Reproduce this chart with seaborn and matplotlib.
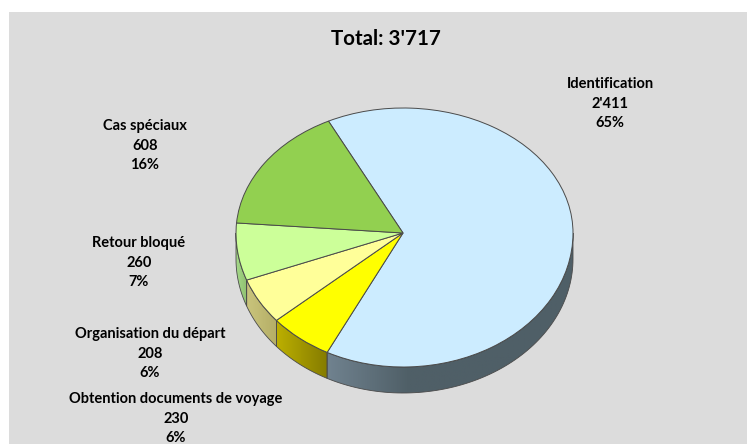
import numpy as np
import seaborn as sns
import matplotlib.pyplot as plt
from matplotlib.patches import PathPatch, Polygon, Rectangle
from matplotlib.path import Path

categories = ['Identification', 'Obtention documents de voyage', 'Organisation du départ', 'Retour bloqué', 'Cas spéciaux']
values = [2411, 230, 208, 260, 608]
percents = [65, 6, 6, 7, 16]
total_label = "Total: 3'717"
top_colors = ['#CCECFF', '#FFFF00', '#FFFF99', '#CCFF99', '#92D050']
side_left = ['#70828F', '#BDB000', '#C9C47C', '#A6D98A', '#7FB045']
side_right = ['#4F5F67', '#857C00', '#B5AE66', '#8FC070', '#6E9A3C']

sns.set_theme(style='white')
plt.rcParams['font.family'] = ['Lato', 'DejaVu Sans']

W, H = 747, 444
fig = plt.figure(figsize=(W / 100, H / 100), dpi=100, facecolor='white')
ax = fig.add_axes([0, 0, 1, 1])

# pixel layout: apex of the pie and radius on each side of it (excel fakes perspective)
cx, cy = 403, 233
r_right, r_left, r_top, r_bottom = 170, 167, 125, 134
depth = 26


def warp(xy):
    xy = np.array(xy, dtype=float)
    xy[:, 0] *= np.where(xy[:, 0] < 0, r_left / r_right, 1)
    xy[:, 1] *= np.where(xy[:, 1] < 0, r_bottom / r_top, 1)
    return xy


wedges, _ = ax.pie(values, colors=sns.color_palette(top_colors), startangle=116.5, counterclock=False, radius=1)
ax.set_aspect('auto')
ax.set_frame_on(False)
ax.add_patch(Rectangle((9, 0), W, H - 12, transform=None, facecolor='#DCDCDC', edgecolor='none', zorder=0))

for w, c1, c2 in zip(wedges, side_left, side_right):
    # redraw the top face with the perspective applied
    p = w.get_patch_transform().transform_path(w.get_path())
    ax.add_patch(PathPatch(Path(warp(p.vertices), p.codes), facecolor=w.get_facecolor(), edgecolor='#4a4a4a',
                           linewidth=0.7, zorder=5))
    w.set_visible(False)

    # side wall of the front facing slices
    t1, t2 = w.theta1, w.theta2
    if t1 < 0:
        t1, t2 = t1 + 360, t2 + 360
    a1, a2 = max(t1, 180), min(t2, 360)
    if a2 <= a1:
        continue
    t = np.radians(np.linspace(a1, a2, 80))
    rim = warp(np.c_[np.cos(t), np.sin(t)])
    low = rim[::-1] - [0, depth / r_top]
    poly = Polygon(np.r_[rim, low], transform=ax.transData, facecolor='none', edgecolor='#4a4a4a',
                   linewidth=0.6, zorder=3)
    ax.add_patch(poly)
    stops = [c1, c2, c2, c2] if c1 == side_left[0] else [c1, c2]
    im = ax.imshow(np.linspace(0, 1, 200).reshape(1, -1), cmap=sns.blend_palette(stops, as_cmap=True),
                   aspect='auto', zorder=2, extent=(rim[:, 0].min(), rim[:, 0].max(), -2, 0))
    im.set_clip_path(poly)

ax.set_xlim(-cx / r_right, (W - cx) / r_right)
ax.set_ylim(-(H - cy) / r_top, cy / r_top)

label_pos = [(610, 84), (176, 399), (150, 334), (139, 243), (145, 126)]
for name, v, pct, (x, y) in zip(categories, values, percents, label_pos):
    val = '{:,}'.format(v).replace(',', "'")
    for i, s in enumerate([name, val, '%d%%' % pct]):
        fig.text(x / W, 1 - (y + i * 19.7) / H, s, ha='center', va='center', fontsize=10.5,
                 fontweight='bold', color='black')
fig.text(386 / W, 1 - 39 / H, total_label, ha='center', va='center', fontsize=14.8, fontweight='bold', color='black')

fig.savefig('out.png', dpi=100)
